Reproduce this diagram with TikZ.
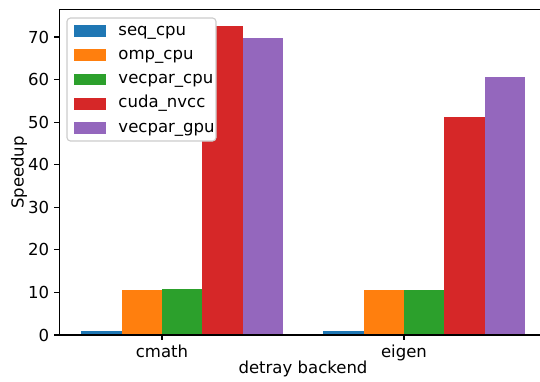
\documentclass[tikz,border=0pt]{standalone}
\usepackage{fontspec}
\setmainfont{DejaVu Sans}
\usetikzlibrary{positioning}
\definecolor{seqcol}{HTML}{1F77B4}
\definecolor{ompcol}{HTML}{FF7F0E}
\definecolor{vcpcol}{HTML}{2CA02C}
\definecolor{cudacol}{HTML}{D62728}
\definecolor{vgpcol}{HTML}{9467BD}
\begin{document}
\begin{tikzpicture}[x=0.72pt,y=0.72pt,
    spine/.style={line width=0.8pt,line cap=rect},
    tickmark/.style={line width=0.8pt},
    ticklabel/.style={inner sep=0pt,font=\fontsize{11.9}{14}\selectfont},
    legendbox/.style={draw=black!20,fill=white,line width=0.8pt,rounded corners=2.5pt},
    patch/.style={minimum width=23pt,minimum height=8.6pt,inner sep=0pt},
    entry/.style={inner sep=0pt,text height=8.8pt,text depth=2.8pt,font=\fontsize{11.9}{14}\selectfont}]
  \useasboundingbox (0,0) rectangle (540,381);
  % axes in data units
  \begin{scope}[shift={(162,46)},x=174.24pt,y=3.065pt]
    % cmath
    \fill[seqcol] (-1/3,0) rectangle (-1/6,1.0);
    \fill[ompcol] (-1/6,0) rectangle (0,10.6);
    \fill[vcpcol] (0,0) rectangle (1/6,10.8);
    \fill[cudacol] (1/6,0) rectangle (1/3,72.5);
    \fill[vgpcol] (1/3,0) rectangle (1/2,69.7);
    % eigen
    \fill[seqcol] (2/3,0) rectangle (5/6,1.0);
    \fill[ompcol] (5/6,0) rectangle (1,10.6);
    \fill[vcpcol] (1,0) rectangle (7/6,10.6);
    \fill[cudacol] (7/6,0) rectangle (4/3,51.2);
    \fill[vgpcol] (4/3,0) rectangle (3/2,60.6);
    % spines
    \coordinate (bl) at (-0.425,0);
    \coordinate (tl) at (-0.425,76.4);
    \coordinate (br) at (1.57,0);
    \coordinate (tr) at (1.57,76.4);
    \draw[spine] (tr) -- (tl) -- (bl) -- (br);
    % y ticks
    \foreach \v in {0,10,...,70} {
      \draw[tickmark] (-0.425,\v) -- ++(-3.5pt,0) coordinate (yt\v);
      \node[ticklabel,anchor=east] (ylab\v) at ([xshift=-3.5pt]yt\v) {\v};
    }
    % x ticks
    \draw[tickmark] (0,0) -- ++(0,-3.5pt) coordinate (xt0);
    \draw[tickmark] (1,0) -- ++(0,-3.5pt) coordinate (xt1);
    \node[ticklabel,anchor=north,text height=8.8pt,text depth=0pt] (cmath) at ([yshift=-3.5pt]xt0) {cmath};
    \node[ticklabel,anchor=north,text height=8.8pt,text depth=0pt] (eigen) at ([yshift=-3.5pt]xt1) {eigen};
  \end{scope}
  % axis labels
  \node[ticklabel] (xlabel) at (303,12) {detray backend};
  \node[ticklabel,rotate=90] (ylabel) at (19,208.5) {Speedup};
  % legend
  \draw[legendbox] (67,363) rectangle (216,240);
  \node[patch,fill=seqcol] (p1) at (90,350) {};
  \node[patch,fill=ompcol,below=8.45pt of p1] (p2) {};
  \node[patch,fill=vcpcol,below=8.45pt of p2] (p3) {};
  \node[patch,fill=cudacol,below=8.45pt of p3] (p4) {};
  \node[patch,fill=vgpcol,below=8.45pt of p4] (p5) {};
  \node[entry,right=8.6pt of p1] (seq) {seq\_cpu};
  \node[entry,right=8.6pt of p2] (omp) {omp\_cpu};
  \node[entry,right=8.6pt of p3] (vcp) {vecpar\_cpu};
  \node[entry,right=8.6pt of p4] (cuda) {cuda\_nvcc};
  \node[entry,right=8.6pt of p5] (vgp) {vecpar\_gpu};
\end{tikzpicture}
\end{document}
